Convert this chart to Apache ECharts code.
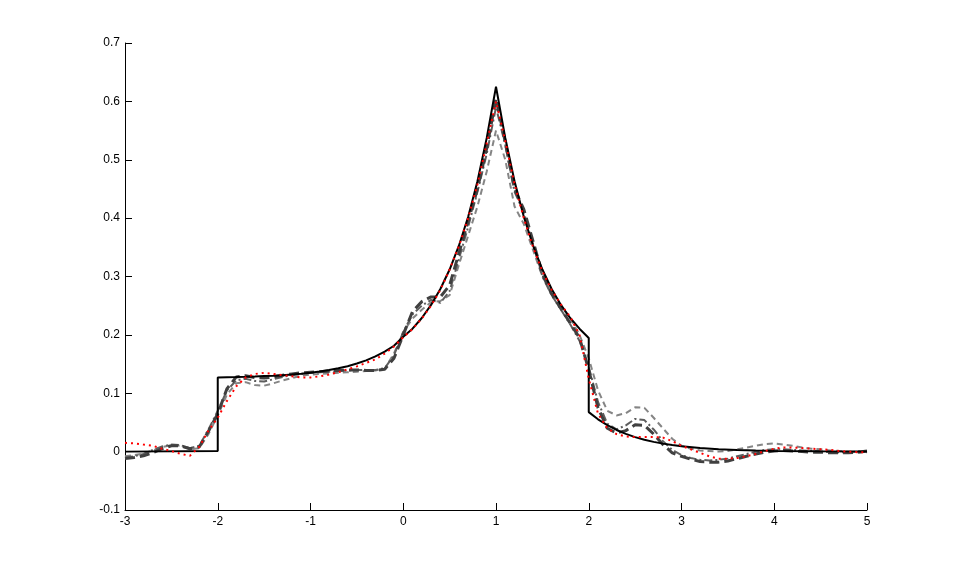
<!DOCTYPE html>
<html>
<head>
<meta charset="utf-8">
<script src="https://cdn.jsdelivr.net/npm/echarts@6/dist/echarts.min.js"></script>
<style>html,body{margin:0;padding:0;background:#fff;}#c{width:958px;height:574px;}</style>
</head>
<body>
<div id="c"></div>
<script>
// true density (x values with duplicated jump points)
var truthX = [-3,-2,-2,-1.9,-1.8,-1.7,-1.6,-1.5,-1.4,-1.3,-1.2,-1.1,-1.0,-0.9,-0.8,-0.7,-0.6,-0.5,-0.4,-0.3,-0.2,-0.1,0,0.1,0.2,0.3,0.4,0.5,0.6,0.7,0.8,0.9,1.0,1.1,1.2,1.3,1.4,1.5,1.6,1.7,1.8,1.9,2.0,2.0,2.1,2.2,2.3,2.4,2.5,2.6,2.7,2.8,2.9,3.0,3.2,3.4,3.6,3.8,4.0,4.5,5.0];
var truthY = [0,0.001,0.127,0.1275,0.1278,0.1282,0.1287,0.1294,0.1301,0.1310,0.1321,0.1335,0.1352,0.1372,0.1397,0.1427,0.1464,0.1509,0.1564,0.1631,0.1714,0.1814,0.1967,0.2106,0.2289,0.2513,0.2786,0.3119,0.3527,0.4024,0.4632,0.5374,0.625,0.5374,0.4632,0.4024,0.3527,0.3119,0.2786,0.2513,0.2289,0.2106,0.1947,0.0677,0.0554,0.0454,0.0371,0.0304,0.0249,0.0204,0.0167,0.0137,0.0112,0.0092,0.0061,0.0041,0.0027,0.0018,0.0012,0.0005,0.0002];

// estimate grid x = -3.0 ... 5.0 step 0.1
var gridX = [-3.0,-2.9,-2.8,-2.7,-2.6,-2.5,-2.4,-2.3,-2.2,-2.1,-2.0,-1.9,-1.8,-1.7,-1.6,-1.5,-1.4,-1.3,-1.2,-1.1,-1.0,-0.9,-0.8,-0.7,-0.6,-0.5,-0.4,-0.3,-0.2,-0.1,0.0,0.1,0.2,0.3,0.4,0.5,0.6,0.7,0.8,0.9,1.0,1.1,1.2,1.3,1.4,1.5,1.6,1.7,1.8,1.9,2.0,2.1,2.2,2.3,2.4,2.5,2.6,2.7,2.8,2.9,3.0,3.1,3.2,3.3,3.4,3.5,3.6,3.7,3.8,3.9,4.0,4.1,4.2,4.3,4.4,4.5,4.6,4.7,4.8,4.9,5.0];

var redY = [0.015,0.014,0.012,0.010,0.005,0.001,-0.004,-0.007,0.008,0.036,0.058,0.087,0.112,0.127,0.133,0.135,0.133,0.131,0.129,0.127,0.127,0.129,0.132,0.136,0.141,0.146,0.152,0.158,0.168,0.180,0.196,0.210,0.228,0.250,0.277,0.312,0.352,0.400,0.458,0.528,0.600,0.532,0.458,0.400,0.350,0.309,0.277,0.252,0.231,0.200,0.125,0.065,0.040,0.030,0.026,0.025,0.025,0.025,0.024,0.018,0.010,0.004,-0.002,-0.008,-0.012,-0.012,-0.011,-0.008,-0.004,0.001,0.005,0.007,0.007,0.006,0.005,0.004,0.003,0.001,0.000,-0.001,-0.001];

var darkY = [-0.012,-0.010,-0.007,-0.002,0.005,0.010,0.010,0.005,0.008,0.035,0.065,0.108,0.128,0.130,0.127,0.126,0.128,0.131,0.133,0.135,0.136,0.137,0.138,0.139,0.140,0.140,0.139,0.139,0.141,0.160,0.200,0.240,0.257,0.265,0.265,0.285,0.340,0.395,0.450,0.520,0.605,0.530,0.450,0.415,0.360,0.305,0.270,0.245,0.220,0.195,0.140,0.075,0.040,0.032,0.036,0.046,0.045,0.030,0.012,-0.002,-0.008,-0.013,-0.017,-0.018,-0.018,-0.016,-0.012,-0.008,-0.004,-0.001,0.001,0.002,0.001,0.000,-0.001,-0.001,-0.002,-0.002,-0.002,-0.001,0.001];

var midY = [-0.010,-0.008,-0.004,0.003,0.009,0.012,0.011,0.006,0.010,0.038,0.070,0.105,0.122,0.125,0.121,0.120,0.124,0.128,0.131,0.133,0.135,0.136,0.137,0.138,0.139,0.140,0.140,0.140,0.143,0.165,0.205,0.235,0.250,0.260,0.255,0.275,0.330,0.385,0.445,0.510,0.590,0.525,0.445,0.410,0.355,0.300,0.268,0.243,0.218,0.190,0.145,0.085,0.048,0.038,0.045,0.056,0.054,0.038,0.018,0.003,-0.006,-0.011,-0.014,-0.015,-0.014,-0.012,-0.008,-0.004,0.000,0.003,0.004,0.004,0.003,0.002,0.001,0.000,-0.001,-0.001,-0.001,0.000,0.001];

var lightY = [-0.008,-0.006,-0.003,0.002,0.008,0.011,0.010,0.004,0.006,0.030,0.062,0.098,0.117,0.119,0.114,0.113,0.117,0.122,0.126,0.130,0.132,0.133,0.134,0.135,0.136,0.137,0.138,0.139,0.142,0.168,0.205,0.228,0.243,0.256,0.258,0.268,0.320,0.370,0.420,0.480,0.550,0.500,0.420,0.390,0.345,0.300,0.272,0.250,0.228,0.200,0.160,0.105,0.070,0.062,0.066,0.076,0.075,0.058,0.040,0.022,0.010,0.005,0.002,0.001,0.000,0.001,0.004,0.007,0.010,0.013,0.014,0.012,0.010,0.007,0.005,0.004,0.002,0.001,0.000,-0.001,-0.001];

function pairs(xs, ys){ return xs.map(function(x,i){ return [x, ys[i]]; }); }

var chart = echarts.init(document.getElementById('c'), null, {renderer:'canvas'});
var font = {color:'#000', fontFamily:'Liberation Sans, Arial, sans-serif', fontSize:12};
function line(name, data, color, width, type, z){
  return {name:name, type:'line', data:data, showSymbol:false, symbol:'none', silent:true, z:z,
    lineStyle:{color:color, width:width, type:type, cap:'butt'}};
}
chart.setOption({
  animation:false,
  backgroundColor:'#fff',
  grid:{left:125, right:91, top:43, bottom:64, containLabel:false},
  xAxis:{type:'value', min:-3, max:5, interval:1,
    axisLine:{show:true, onZero:false, lineStyle:{color:'#000', width:1}},
    axisTick:{show:true, inside:true, length:7, lineStyle:{color:'#000'}},
    axisLabel:Object.assign({margin:6, formatter:function(v){return String(v);}}, font),
    splitLine:{show:false}},
  yAxis:{type:'value', min:-0.1, max:0.7, interval:0.1,
    axisLine:{show:true, onZero:false, lineStyle:{color:'#000', width:1}},
    axisTick:{show:true, inside:true, length:7, lineStyle:{color:'#000'}},
    axisLabel:Object.assign({margin:5, formatter:function(v){return String(+v.toFixed(1));}}, font),
    splitLine:{show:false}},
  series:[
    line('light', pairs(gridX, lightY), '#858585', 2, [6,4], 1),
    line('mid', pairs(gridX, midY), '#5e5e5e', 2, [8,3,2,3], 2),
    line('dark', pairs(gridX, darkY), '#404040', 3, [10,5], 3),
    line('truth', pairs(truthX, truthY), '#000', 2, 'solid', 4),
    line('red', pairs(gridX, redY), '#ff0000', 2, [2,4], 5)
  ]
});
</script>
</body>
</html>
